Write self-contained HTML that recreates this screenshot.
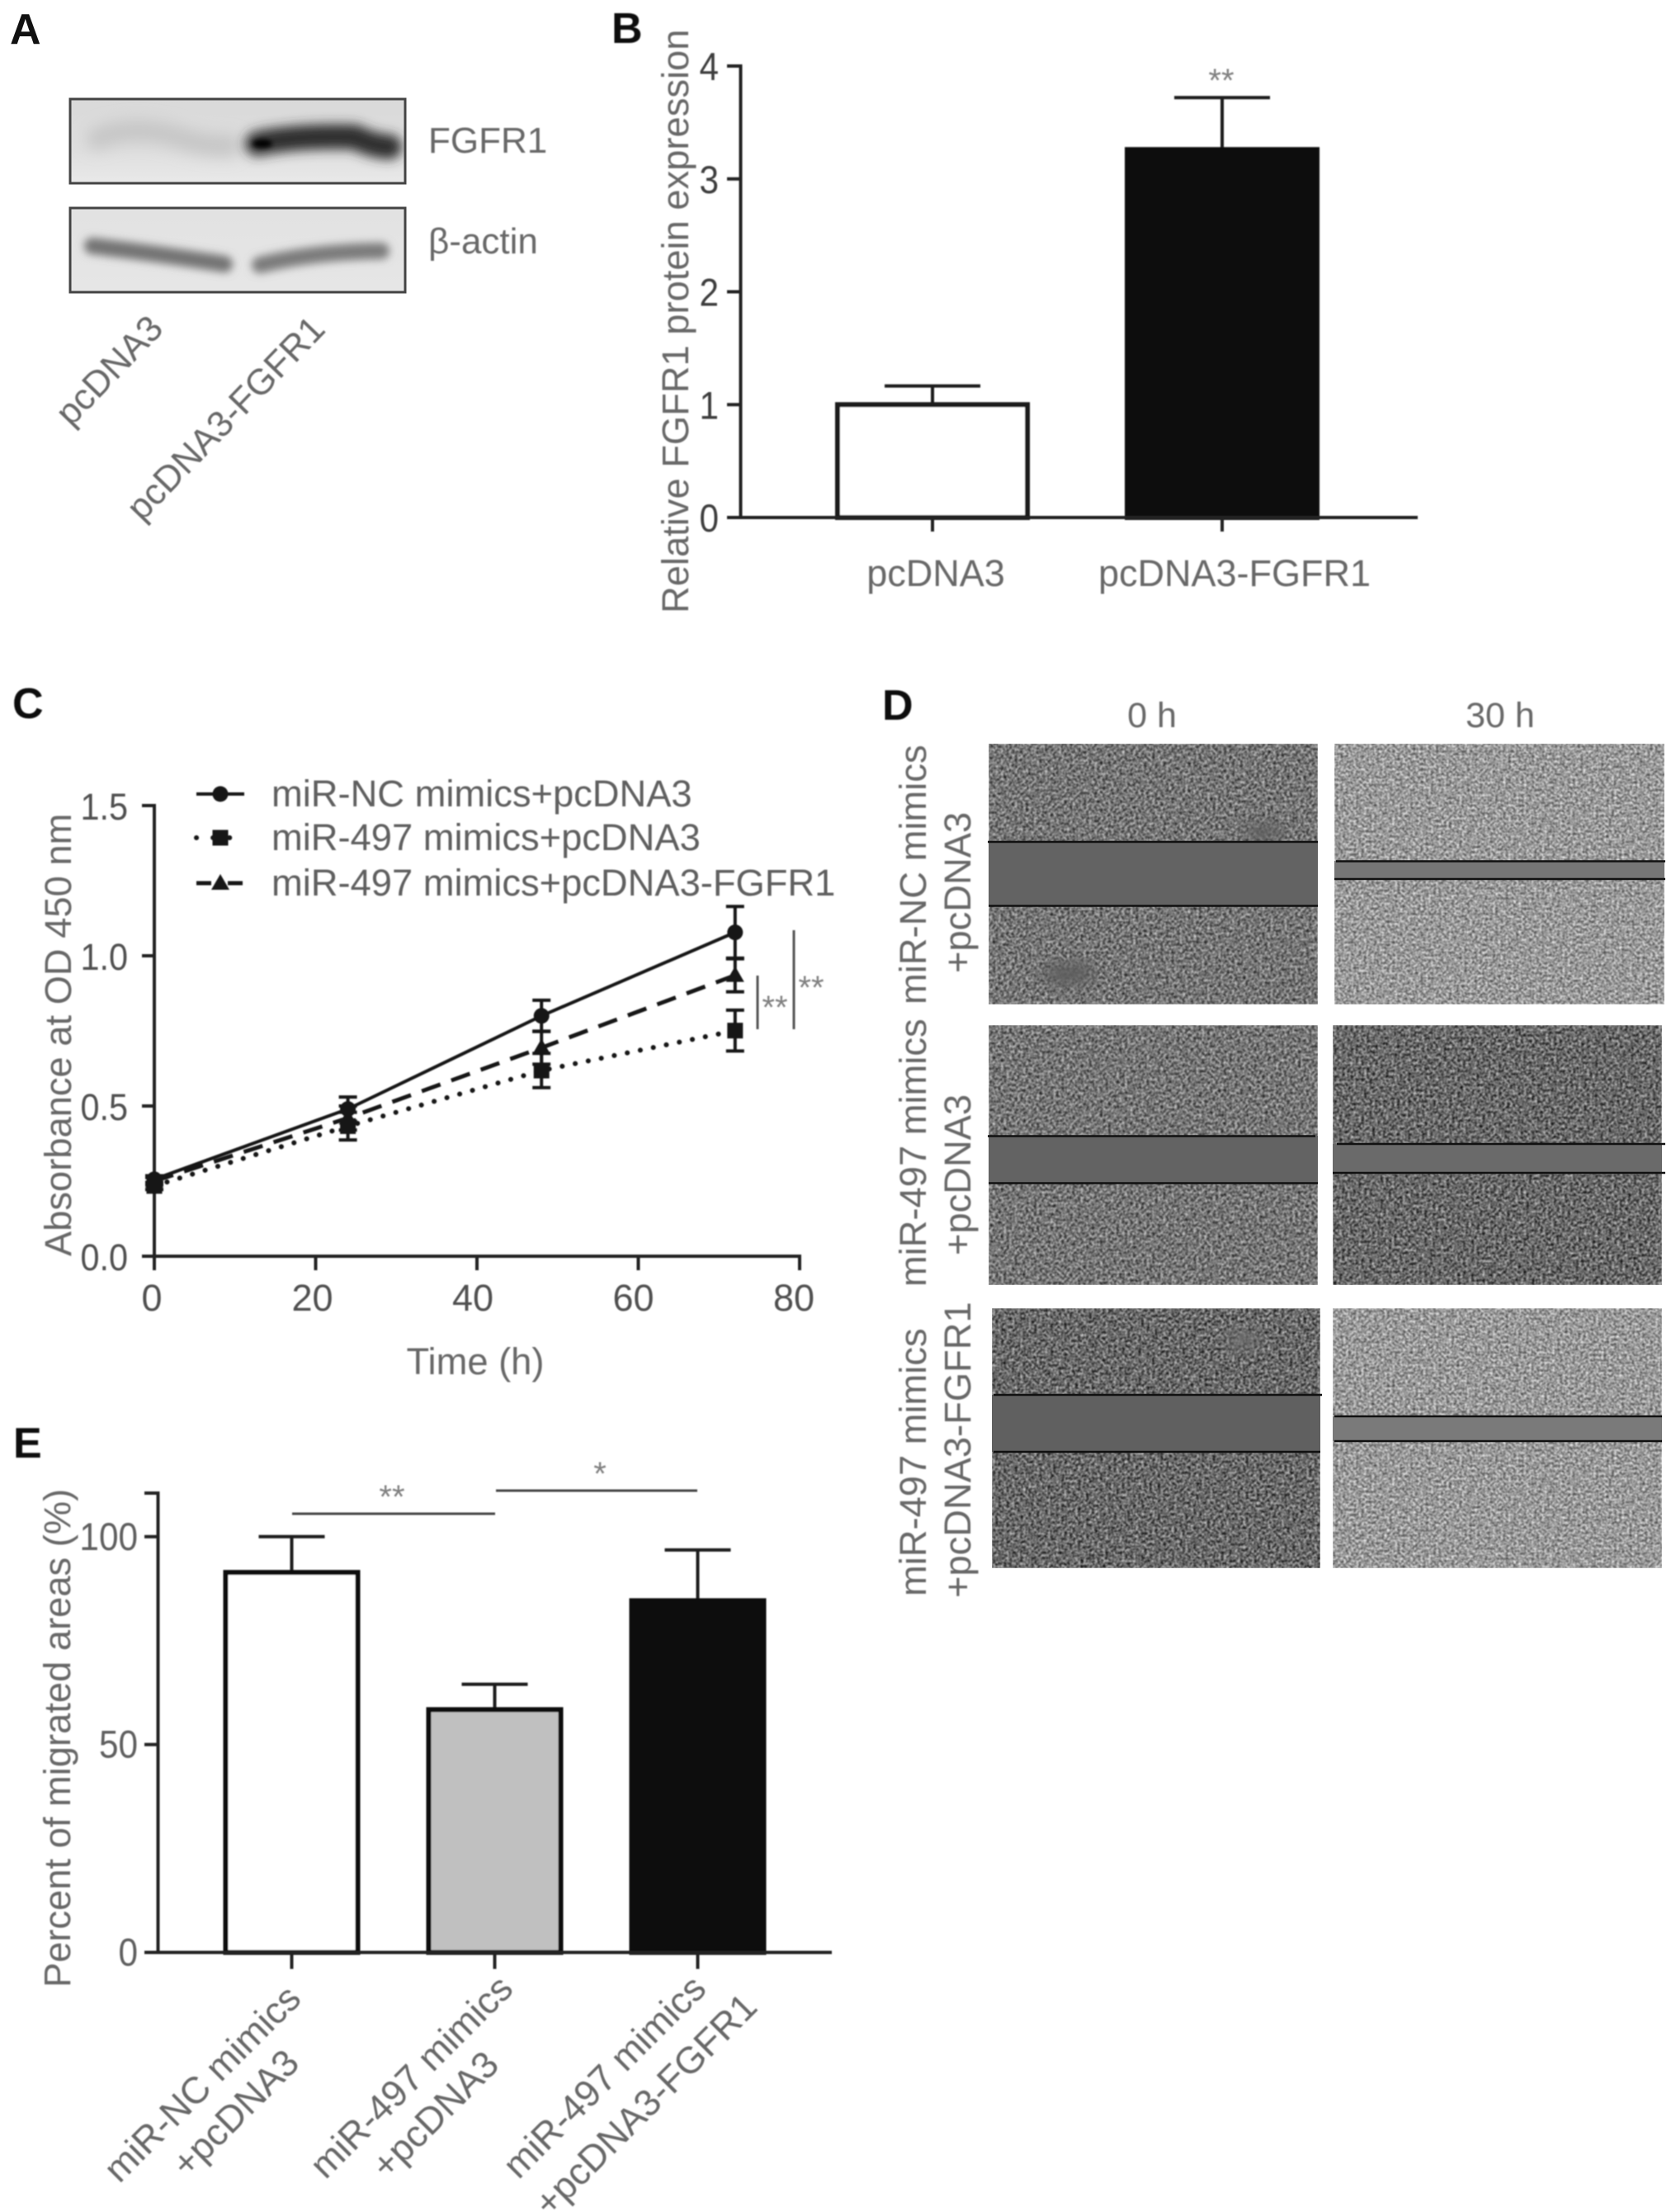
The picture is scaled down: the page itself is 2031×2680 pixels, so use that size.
<!DOCTYPE html>
<html lang="en">
<head>
<meta charset="utf-8">
<title>FGFR1 multi-panel figure</title>
<style>
html,body{margin:0;padding:0;background:#fff;width:2031px;height:2680px;overflow:hidden}
svg{display:block}
text{font-family:"Liberation Sans",sans-serif;fill:#686868}
.panel{font-weight:700;fill:#111;font-size:52px}
.t45{font-size:45.3px}
.star{font-size:40px;fill:#808080}
</style>
</head>
<body>
<svg id="fig" xmlns="http://www.w3.org/2000/svg" width="2031" height="2680" viewBox="0 0 2031 2680">
<defs>
<filter id="soft" filterUnits="userSpaceOnUse" x="0" y="0" width="2031" height="2680"><feGaussianBlur stdDeviation="0.8"/></filter>
<filter id="fb9" filterUnits="userSpaceOnUse" x="60" y="100" width="460" height="280"><feGaussianBlur stdDeviation="9"/></filter>
<filter id="fb7" filterUnits="userSpaceOnUse" x="60" y="100" width="460" height="280"><feGaussianBlur stdDeviation="7"/></filter>
<filter id="fb5" filterUnits="userSpaceOnUse" x="60" y="100" width="460" height="280"><feGaussianBlur stdDeviation="5"/></filter>
<filter id="fb3" filterUnits="userSpaceOnUse" x="60" y="100" width="460" height="280"><feGaussianBlur stdDeviation="3"/></filter>
<filter id="blob" x="-100%" y="-100%" width="300%" height="300%"><feGaussianBlur stdDeviation="9"/></filter>
<filter id="cellsDark" x="0" y="0" width="1" height="1" color-interpolation-filters="sRGB"><feTurbulence type="fractalNoise" baseFrequency="0.3" numOctaves="2" seed="4"/><feColorMatrix type="matrix" values="1.1 0 0 0 -0.14 1.1 0 0 0 -0.14 1.1 0 0 0 -0.14 0 0 0 0 1"/><feGaussianBlur stdDeviation="0.8"/></filter>
<filter id="cellsMid" x="0" y="0" width="1" height="1" color-interpolation-filters="sRGB"><feTurbulence type="fractalNoise" baseFrequency="0.3" numOctaves="2" seed="9"/><feColorMatrix type="matrix" values="1.0 0 0 0 -0.04 1.0 0 0 0 -0.04 1.0 0 0 0 -0.04 0 0 0 0 1"/><feGaussianBlur stdDeviation="0.8"/></filter>
<filter id="cellsLight" x="0" y="0" width="1" height="1" color-interpolation-filters="sRGB"><feTurbulence type="fractalNoise" baseFrequency="0.32" numOctaves="2" seed="15"/><feColorMatrix type="matrix" values="1.0 0 0 0 0.1 1.0 0 0 0 0.1 1.0 0 0 0 0.1 0 0 0 0 1"/><feGaussianBlur stdDeviation="0.7"/></filter>
<linearGradient id="blotBg1" x1="0" y1="0" x2="0" y2="1"><stop offset="0" stop-color="#d9d9d9"/><stop offset="0.6" stop-color="#dedede"/><stop offset="1" stop-color="#e9e9e9"/></linearGradient>
<linearGradient id="blotBg2" x1="0" y1="0" x2="0" y2="1"><stop offset="0" stop-color="#e2e2e2"/><stop offset="1" stop-color="#e6e6e6"/></linearGradient>
<clipPath id="blotClip1"><rect x="85" y="120" width="406" height="102"/></clipPath>
<clipPath id="blotClip2"><rect x="85" y="252" width="406" height="102"/></clipPath>
</defs>

<g id="panel-a">
  <text class="panel" x="12" y="53">A</text>
  <rect x="85" y="120" width="406" height="102" fill="url(#blotBg1)"/>
  <g clip-path="url(#blotClip1)">
    <path d="M118,168 Q160,150 215,166 Q250,178 278,176" fill="none" stroke="#c6c6c6" stroke-width="26" stroke-linecap="round" filter="url(#fb9)"/>
    <path d="M312,174 Q360,164 430,166 Q452,177 472,178" fill="none" stroke="#2e2e2e" stroke-width="30" stroke-linecap="round" filter="url(#fb7)"/>
    <ellipse cx="318" cy="174" rx="12" ry="5" fill="#000" filter="url(#fb3)"/>
  </g>
  <rect x="85" y="120" width="406" height="102" fill="none" stroke="#444" stroke-width="3"/>
  <rect x="85" y="252" width="406" height="102" fill="url(#blotBg2)"/>
  <g clip-path="url(#blotClip2)">
    <path d="M112,298 Q190,307 272,320" fill="none" stroke="#737373" stroke-width="20" stroke-linecap="round" filter="url(#fb5)"/>
    <path d="M315,321 Q380,305 462,304" fill="none" stroke="#7c7c7c" stroke-width="20" stroke-linecap="round" filter="url(#fb5)"/>
  </g>
  <rect x="85" y="252" width="406" height="102" fill="none" stroke="#444" stroke-width="3"/>
  <g filter="url(#soft)">
  <text x="519" y="185" font-size="44">FGFR1</text>
  <text x="519" y="307" font-size="44">β-actin</text>
  <text transform="translate(86,518) rotate(-46)" font-size="44">pcDNA3</text>
  <text transform="translate(172,633) rotate(-46)" font-size="44">pcDNA3-FGFR1</text>
  </g>
</g>

<g id="panel-b" filter="url(#soft)">
  <text class="panel" x="741" y="52">B</text>
  <text class="t45" transform="translate(834,743) rotate(-90)">Relative FGFR1 protein expression</text>
  <text class="star" x="1480" y="111" text-anchor="middle">**</text>
  <g id="marks-b"></g>
</g>

<g id="panel-c" filter="url(#soft)">
  <text class="panel" x="15" y="870">C</text>
  <text class="t45" transform="translate(86,1522) rotate(-90)">Absorbance at OD 450 nm</text>
  <text class="t45" x="576" y="1665" text-anchor="middle">Time (h)</text>
  <g id="marks-c"></g>
  <line x1="918" y1="1182" x2="918" y2="1247" stroke="#555" stroke-width="3"/>
  <line x1="962" y1="1127" x2="962" y2="1247" stroke="#555" stroke-width="3"/>
  <text class="star" x="939" y="1234" text-anchor="middle">**</text>
  <text class="star" x="983" y="1210" text-anchor="middle">**</text>
</g>

<g id="panel-d">
  <g filter="url(#soft)">
  <text class="panel" x="1069" y="872">D</text>
  <text x="1396" y="881" font-size="43" text-anchor="middle">0 h</text>
  <text x="1818" y="881" font-size="43" text-anchor="middle">30 h</text>
  <text class="t45" transform="translate(1122,1217) rotate(-90)">miR-NC mimics</text>
  <text class="t45" transform="translate(1176,1179) rotate(-90)">+pcDNA3</text>
  <text class="t45" transform="translate(1122,1559) rotate(-90)">miR-497 mimics</text>
  <text class="t45" transform="translate(1176,1521) rotate(-90)">+pcDNA3</text>
  <text class="t45" transform="translate(1122,1934) rotate(-90)">miR-497 mimics</text>
  <text class="t45" transform="translate(1176,1936) rotate(-90)">+pcDNA3-FGFR1</text>
  </g>

  <g>
    <rect x="1198" y="901" width="399" height="316" fill="#777" filter="url(#cellsMid)"/>
    <ellipse cx="1530" cy="1008" rx="26" ry="10" fill="#5f5f5f" filter="url(#blob)"/>
    <ellipse cx="1295" cy="1180" rx="32" ry="14" fill="#5f5f5f" filter="url(#blob)"/>
    <rect x="1198" y="1020" width="399" height="78" fill="#636363"/>
    <line x1="1197" y1="1020" x2="1597" y2="1020" stroke="#111" stroke-width="2.5"/>
    <line x1="1198" y1="1097.5" x2="1597" y2="1097.5" stroke="#111" stroke-width="2.5"/>
  </g>
  <g>
    <rect x="1617" y="901" width="400" height="316" fill="#999" filter="url(#cellsLight)"/>
    <rect x="1617" y="1043" width="400" height="22" fill="#767676"/>
    <line x1="1619" y1="1043.5" x2="2018" y2="1043.5" stroke="#111" stroke-width="2.5"/>
    <line x1="1617" y1="1065" x2="2018" y2="1065" stroke="#111" stroke-width="2.5"/>
  </g>
  <g>
    <rect x="1198" y="1242" width="399" height="315" fill="#777" filter="url(#cellsMid)"/>
    <rect x="1198" y="1376" width="399" height="57" fill="#636363"/>
    <line x1="1197" y1="1376.5" x2="1594" y2="1376.5" stroke="#111" stroke-width="2.5"/>
    <line x1="1198" y1="1433.5" x2="1597" y2="1433.5" stroke="#111" stroke-width="2.5"/>
  </g>
  <g>
    <rect x="1615" y="1242" width="399" height="315" fill="#666" filter="url(#cellsDark)"/>
    <rect x="1615" y="1386" width="399" height="35" fill="#6a6a6a"/>
    <line x1="1620" y1="1386" x2="2018" y2="1386" stroke="#111" stroke-width="2.5"/>
    <line x1="1615" y1="1421" x2="2018" y2="1421" stroke="#111" stroke-width="2.5"/>
  </g>
  <g>
    <rect x="1202" y="1585" width="398" height="315" fill="#666" filter="url(#cellsDark)"/>
    <ellipse cx="1506" cy="1624" rx="24" ry="9" fill="#6e6e6e" filter="url(#blob)"/>
    <rect x="1202" y="1690" width="398" height="69" fill="#606060"/>
    <line x1="1204" y1="1690" x2="1602" y2="1690" stroke="#111" stroke-width="2.5"/>
    <line x1="1204" y1="1759" x2="1600" y2="1759" stroke="#111" stroke-width="2.5"/>
  </g>
  <g>
    <rect x="1615" y="1585" width="399" height="315" fill="#999" filter="url(#cellsLight)"/>
    <rect x="1615" y="1716" width="399" height="30" fill="#7a7a7a"/>
    <line x1="1617" y1="1716" x2="2014" y2="1716" stroke="#111" stroke-width="2.5"/>
    <line x1="1617" y1="1746" x2="2014" y2="1746" stroke="#111" stroke-width="2.5"/>
  </g>
</g>

<g id="panel-e" filter="url(#soft)">
  <text class="panel" x="16" y="1766">E</text>
  <text class="t45" transform="translate(85,2408) rotate(-90)">Percent of migrated areas (%)</text>
  <g id="marks-e"></g>
  <line x1="354" y1="1834" x2="600" y2="1834" stroke="#444" stroke-width="3"/>
  <line x1="601" y1="1806" x2="845" y2="1806" stroke="#444" stroke-width="3"/>
  <text class="star" x="475" y="1827" text-anchor="middle">**</text>
  <text class="star" x="727" y="1799" text-anchor="middle">*</text>
  <text class="t45" transform="translate(367,2424) rotate(-45)" text-anchor="end">miR-NC mimics</text>
  <text class="t45" transform="translate(365,2502) rotate(-45)" text-anchor="end">+pcDNA3</text>
  <text class="t45" transform="translate(624,2412) rotate(-45)" text-anchor="end">miR-497 mimics</text>
  <text class="t45" transform="translate(607,2504) rotate(-45)" text-anchor="end">+pcDNA3</text>
  <text class="t45" transform="translate(858,2412) rotate(-45)" text-anchor="end">miR-497 mimics</text>
  <text class="t45" transform="translate(920,2434) rotate(-45)" text-anchor="end">+pcDNA3-FGFR1</text>
</g>
</svg>

<script>
// ---- Panel B data ----
const catsB = ['pcDNA3', 'pcDNA3-FGFR1'];
const valuesB = [1.0, 3.26];
const errorsB = [0.165, 0.46];
const fillsB = ['#ffffff', '#0e0e0e'];
const ticksB = [0, 1, 2, 3, 4];

// ---- Panel C data ----
const timesC = [0, 24, 48, 72];
const seriesNC = [0.256, 0.49, 0.80, 1.078];
const errorNC = [0.012, 0.04, 0.052, 0.086];
const series497 = [0.234, 0.433, 0.618, 0.751];
const error497 = [0.012, 0.046, 0.057, 0.068];
const series497F = [0.25, 0.46, 0.694, 0.935];
const error497F = [0.012, 0.04, 0.055, 0.055];
const legendC = ['miR-NC mimics+pcDNA3', 'miR-497 mimics+pcDNA3', 'miR-497 mimics+pcDNA3-FGFR1'];
const ticksCX = [0, 20, 40, 60, 80];
const ticksCY = ['0.0', '0.5', '1.0', '1.5'];

// ---- Panel E data ----
const valuesE = [91.4, 58.4, 84.6];
const errorsE = [8.6, 6.1, 12.2];
const fillsE = ['#ffffff', '#c0c0c0', '#0e0e0e'];
const ticksE = [0, 50, 100];

const NS = 'http://www.w3.org/2000/svg';
function mk(tag, attrs, parent) {
  const el = document.createElementNS(NS, tag);
  for (const k in attrs) el.setAttribute(k, attrs[k]);
  parent.appendChild(el);
  return el;
}
function label(str, x, y, size, anchor, sx, color, parent) {
  const el = mk('text', {transform: 'translate(' + x + ',' + y + ') scale(' + sx + ',1)', 'font-size': size, 'text-anchor': anchor, style: 'fill:' + color}, parent);
  el.textContent = str;
  return el;
}
function seg(x1, y1, x2, y2, w, color, parent) {
  return mk('line', {x1: x1, y1: y1, x2: x2, y2: y2, stroke: color, 'stroke-width': w}, parent);
}

// ---- Axis functions ----
function yB(v) { return 627 - v * 136.75; }
function xB(i) { return 1130 + i * 351; }
function xC(t) { return 187 + t * 9.775; }
function yC(v) { return 1522 - v * 364; }
function yE(v) { return 2365.5 - v * 5.037; }
function xE(i) { return 353.5 + i * 246; }

// ---- Panel B ----
(function () {
  const g = document.getElementById('marks-b');
  valuesB.forEach(function (v, i) {
    const stem = seg(xB(i), yB(v), xB(i), yB(v + errorsB[i]), 4, '#1a1a1a', g);
    
    
    const cap = seg(xB(i) - 58, yB(v + errorsB[i]), xB(i) + 58, yB(v + errorsB[i]), 4, '#1a1a1a', g);
    
    
    const bar = mk('rect', {x: xB(i) - 115, y: yB(v), width: 230, height: yB(0) - yB(v), fill: fillsB[i], stroke: i === 0 ? '#1a1a1a' : '#0e0e0e', 'stroke-width': 6}, g);
    
    
    const tick = seg(xB(i), yB(0), xB(i), yB(0) + 17, 4, '#222', g);
    
    
    const t = label(catsB[i], xB(i) + (i === 0 ? 4 : 15), 710, 45, 'middle', 1, '#686868', g);
    
    
  });
  const ya = seg(897.5, yB(4) - 2, 897.5, yB(0) + 2, 4, '#222', g);
  
  
  const xa = seg(881, yB(0), 1718, yB(0), 4, '#222', g);
  
  
  ticksB.forEach(function (v) {
    const tk = seg(881, yB(v), 897, yB(v), 4, '#222', g);
    
    
    const t = label(String(v), 871, yB(v) + 17, 47, 'end', 0.9, '#3c3c3c', g);
    
    
  });
})();

// ---- Panel C ----
function marker(kind, x, y, g) {
  if (kind === 'circle') return mk('circle', {cx: x, cy: y, r: 9.5, fill: '#141414'}, g);
  if (kind === 'square') return mk('rect', {x: x - 9.5, y: y - 9.5, width: 19, height: 19, fill: '#141414'}, g);
  return mk('path', {d: 'M' + x + ',' + (y - 11) + 'L' + (x + 11) + ',' + (y + 8) + 'L' + (x - 11) + ',' + (y + 8) + 'Z', fill: '#141414'}, g);
}
function drawSeries(values, errors, dash, width, kind, g) {
  const pts = values.map(function (v, i) { return xC(timesC[i]) + ',' + yC(v); }).join(' ');
  const line = mk('polyline', {points: pts, fill: 'none', stroke: '#141414', 'stroke-width': width, 'stroke-dasharray': dash, 'stroke-linecap': dash.indexOf('0.1') === 0 ? 'round' : 'butt'}, g);
  
  
  values.forEach(function (v, i) {
    const x = xC(timesC[i]);
    const st = seg(x, yC(v + errors[i]), x, yC(v - errors[i]), 4, '#141414', g);
    
    
    const c1 = seg(x - 11, yC(v + errors[i]), x + 11, yC(v + errors[i]), 4, '#141414', g);
    
    
    const c2 = seg(x - 11, yC(v - errors[i]), x + 11, yC(v - errors[i]), 4, '#141414', g);
    
    
    const m = marker(kind, x, yC(v), g);
    
    
  });
}
function legendRow(i, dash, width, kind, g) {
  const y = [962, 1015, 1070][i];
  const ln = mk('line', {x1: 238, y1: y, x2: 296, y2: y, stroke: '#141414', 'stroke-width': width, 'stroke-dasharray': dash, 'stroke-linecap': dash.indexOf('0.1') === 0 ? 'round' : 'butt'}, g);
  
  
  const m = marker(kind, 267, y, g);
  
  
  const t = label(legendC[i], 329, y + 15, 45.3, 'start', 1, '#5e5e5e', g);
  
  
}
(function () {
  const g = document.getElementById('marks-c');
  const ya = seg(187, yC(1.5) - 2, 187, yC(0) + 2, 4, '#222', g);
  
  
  const xa = seg(172, yC(0), xC(80) + 2, yC(0), 4, '#222', g);
  
  
  ticksCX.forEach(function (v) {
    const tk = seg(xC(v), yC(0), xC(v), yC(0) + 17, 4, '#222', g);
    
    
    const t = label(String(v), xC(v) - (v / 80) * 4 - 3, 1588, 45, 'middle', 1, '#505050', g);
    
    
  });
  ticksCY.forEach(function (s) {
    const tk = seg(172, yC(+s), 187, yC(+s), 4, '#222', g);
    
    
    const t = label(s, 155, yC(+s) + 17, 45, 'end', 0.92, '#505050', g);
    
    
  });
  drawSeries(seriesNC, errorNC, '', 4, 'circle', g);
  drawSeries(series497, error497, '0.1 16', 6, 'square', g);
  drawSeries(series497F, error497F, '24 14', 5, 'triangle', g);
  legendRow(0, '', 4, 'circle', g);
  legendRow(1, '0.1 20', 6, 'square', g);
  legendRow(2, '18 20', 5, 'triangle', g);
})();

// ---- Panel E ----
(function () {
  const g = document.getElementById('marks-e');
  valuesE.forEach(function (v, i) {
    const stem = seg(xE(i), yE(v), xE(i), yE(v + errorsE[i]), 4, '#1a1a1a', g);
    
    
    const cap = seg(xE(i) - 40, yE(v + errorsE[i]), xE(i) + 40, yE(v + errorsE[i]), 4, '#1a1a1a', g);
    
    
    const bar = mk('rect', {x: xE(i) - 80, y: yE(v), width: 160, height: yE(0) - yE(v), fill: fillsE[i], stroke: i === 2 ? '#0e0e0e' : '#111', 'stroke-width': 6}, g);
    
    
    const tick = seg(xE(i), yE(0), xE(i), yE(0) + 20, 4, '#222', g);
    
    
  });
  const ya = seg(191.5, 1807, 191.5, yE(0) + 2, 4, '#222', g);
  
  
  const top = seg(175, 1809, 191, 1809, 4, '#222', g);
  
  
  const xa = seg(175, yE(0), 1008, yE(0), 4, '#222', g);
  
  
  ticksE.forEach(function (v) {
    const tk = seg(175, yE(v), 191, yE(v), 4, '#222', g);
    
    
    const t = label(String(v), 167, yE(v) + 16, 47, 'end', 0.9, '#5e5e5e', g);
    
    
  });
})();
</script>
</body>
</html>
